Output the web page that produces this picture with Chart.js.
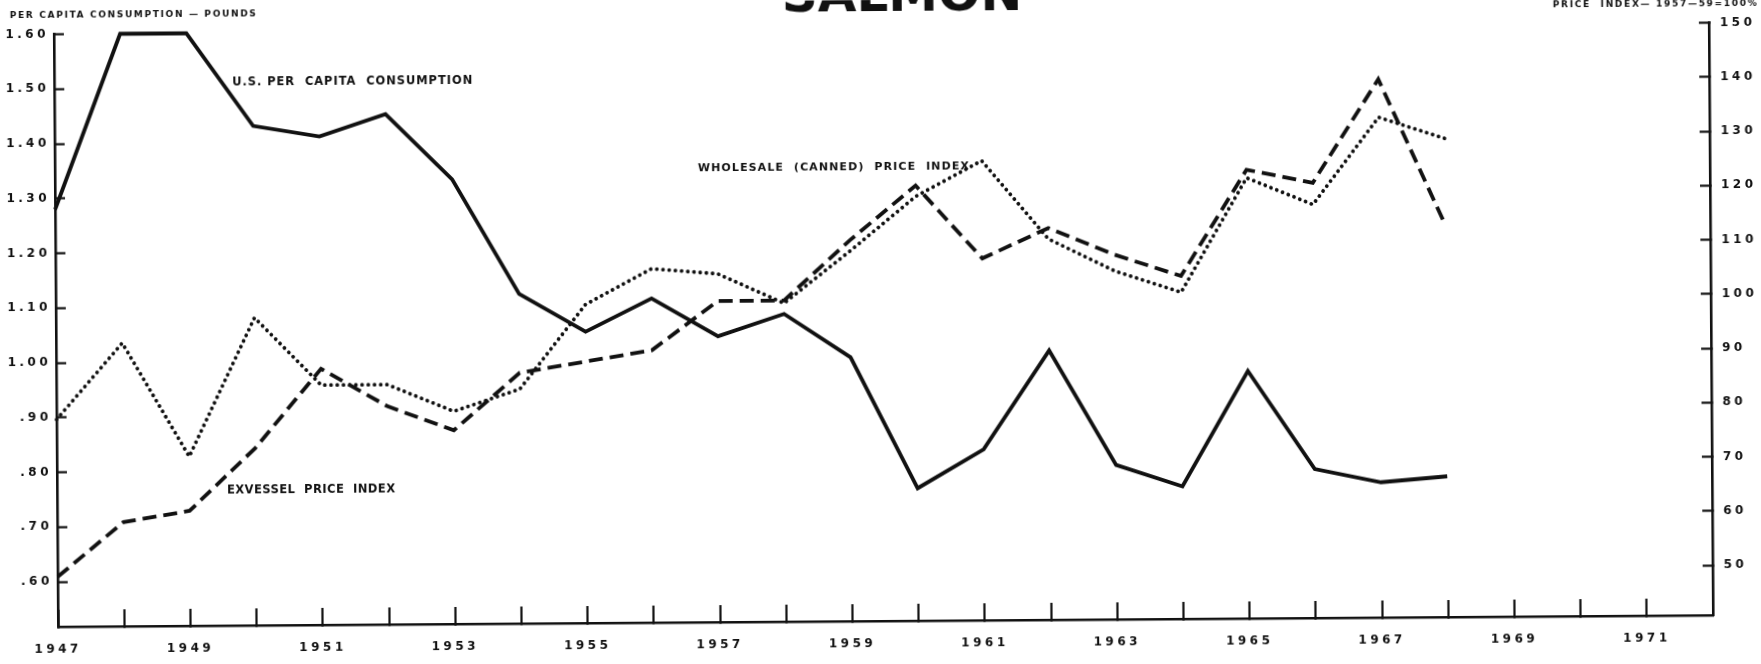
<!DOCTYPE html>
<html>
<head>
<meta charset="utf-8">
<title>Salmon</title>
<script src="https://cdn.jsdelivr.net/npm/chart.js@4/dist/chart.umd.min.js"></script>
<style>
  html, body { margin: 0; padding: 0; background: #fff; overflow: hidden; }
  /* the printed sheet sits slightly askew */
  #chart { display: block; transform: rotate(-0.4deg); transform-origin: 50% 50%; }
</style>
</head>
<body>
<canvas id="chart" width="1761" height="664"></canvas>
<script>
// Salmon: U.S. per capita consumption and price indexes, 1947-1968

const years = [1947, 1948, 1949, 1950, 1951, 1952, 1953, 1954, 1955, 1956, 1957,
               1958, 1959, 1960, 1961, 1962, 1963, 1964, 1965, 1966, 1967, 1968];

// pounds per person
const consumption = [1.28, 1.60, 1.60, 1.43, 1.41, 1.45, 1.33, 1.12, 1.05, 1.11, 1.04,
                     1.08, 1.00, 0.76, 0.83, 1.01, 0.80, 0.76, 0.97, 0.79, 0.765, 0.775];

// price indexes, 1957-59 = 100
const wholesalePrice = [79, 93, 72, 97.5, 85, 85, 80, 84, 99.5, 106, 105,
                        99.5, 109, 119, 125.5, 111, 105, 101, 122, 117, 133, 129];
const exvesselPrice = [50, 60, 62, 73.5, 88, 81, 76.5, 87, 89, 91, 100,
                       100, 111, 121, 107.5, 113, 108, 104, 123.5, 121, 140, 113];

// axis ticks
const yearTicks = [1947, 1948, 1949, 1950, 1951, 1952, 1953, 1954, 1955, 1956, 1957, 1958, 1959,
                   1960, 1961, 1962, 1963, 1964, 1965, 1966, 1967, 1968, 1969, 1970, 1971];
const yearLabels = ['1947', '', '1949', '', '1951', '', '1953', '', '1955', '', '1957', '', '1959',
                    '', '1961', '', '1963', '', '1965', '', '1967', '', '1969', '', '1971'];
const poundTicks = [0.6, 0.7, 0.8, 0.9, 1.0, 1.1, 1.2, 1.3, 1.4, 1.5, 1.6];
const poundLabels = ['.60', '.70', '.80', '.90', '1.00', '1.10', '1.20', '1.30', '1.40', '1.50', '1.60'];
const indexTicks = [50, 60, 70, 80, 90, 100, 110, 120, 130, 140, 150];
const indexLabels = ['50', '60', '70', '80', '90', '100', '110', '120', '130', '140', '150'];

const FONT = '"DejaVu Sans", "Liberation Sans", sans-serif';
const INK = '#111';

function points(values) {
    return years.map((yr, i) => ({ x: yr, y: values[i] }));
}

// spread a string out so that it fills the given width
function spacedText(ctx, text, x, y, width, font, align) {
    ctx.font = font;
    ctx.letterSpacing = '0px';
    const natural = ctx.measureText(text).width;
    const gap = Math.max(0, (width - natural) / (text.length - 1));
    ctx.letterSpacing = gap + 'px';
    ctx.textAlign = 'left';
    const left = align === 'right' ? x - width : align === 'center' ? x - width / 2 : x;
    ctx.fillText(text, left, y);
}

const labelsPlugin = {
    id: 'salmonLabels',
    beforeDraw(chart) {
        // wide tracking for the tick numbers
        chart.ctx.letterSpacing = '3.5px';
    },
    afterDraw(chart) {
        const ctx = chart.ctx;
        ctx.save();
        ctx.fillStyle = INK;
        ctx.textBaseline = 'middle';
        spacedText(ctx, 'PER CAPITA CONSUMPTION \u2014 POUNDS', 12, 10, 246, 'bold 9px ' + FONT, 'left');
        spacedText(ctx, 'PRICE  INDEX\u2014 1957\u201459=100%', 1759, 10, 204, 'bold 9px ' + FONT, 'right');
        spacedText(ctx, 'U.S. PER  CAPITA  CONSUMPTION', 234, 78, 240, 'bold 11.5px ' + FONT, 'left');
        spacedText(ctx, 'WHOLESALE  (CANNED)  PRICE  INDEX', 699, 167, 271, '600 11px ' + FONT, 'left');
        spacedText(ctx, 'EXVESSEL  PRICE  INDEX', 226, 486, 168, 'bold 11.5px ' + FONT, 'left');

        // big heading, running off the top of the sheet
        ctx.textBaseline = 'alphabetic';
        spacedText(ctx, 'SALMON', 898, 11, 228, 'bold 50px ' + FONT, 'center');
        ctx.restore();
    }
};

function fixedTicks(values) {
    return scale => { scale.ticks = values.map(v => ({ value: v })); };
}

const tickFont = { family: FONT, size: 12, weight: 'bold' };

new Chart(document.getElementById('chart'), {
    type: 'line',
    data: {
        datasets: [
            {
                label: 'U.S. per capita consumption',
                data: points(consumption),
                yAxisID: 'pounds',
                borderColor: INK,
                borderWidth: 3.8,
                borderJoinStyle: 'miter'
            },
            {
                label: 'Exvessel price index',
                data: points(exvesselPrice),
                yAxisID: 'index',
                borderColor: INK,
                borderWidth: 3.8,
                borderDash: [14, 7],
                borderCapStyle: 'butt'
            },
            {
                label: 'Wholesale (canned) price index',
                data: points(wholesalePrice),
                yAxisID: 'index',
                borderColor: INK,
                borderWidth: 3.8,
                borderDash: [0.01, 6.2],
                borderCapStyle: 'round'
            }
        ]
    },
    options: {
        responsive: false,
        animation: false,
        events: [],
        clip: false,
        elements: {
            point: { radius: 0 },
            line: { tension: 0, fill: false }
        },
        layout: { padding: { top: 28.5, left: 0, right: 0, bottom: 0 } },
        plugins: {
            legend: { display: false },
            tooltip: { enabled: false },
            title: { display: false }
        },
        scales: {
            x: {
                type: 'linear',
                min: 1947,
                max: 1972,
                afterBuildTicks: fixedTicks(yearTicks),
                afterFit: scale => { scale.height = 43; },
                border: { display: true, color: INK, width: 2.6 },
                grid: { drawOnChartArea: false, drawTicks: true, tickLength: -17, tickWidth: 2.2, tickColor: INK },
                ticks: {
                    autoSkip: false,
                    maxRotation: 0,
                    padding: 33,
                    color: INK,
                    font: tickFont,
                    callback: (value, i) => yearLabels[i]
                }
            },
            pounds: {
                type: 'linear',
                position: 'left',
                min: 0.518,
                max: 1.6,
                afterBuildTicks: fixedTicks(poundTicks),
                afterFit: scale => { scale.width = 56; },
                border: { display: true, color: INK, width: 2.6 },
                grid: { drawOnChartArea: false, drawTicks: true, tickLength: -10, tickWidth: 2.2, tickColor: INK },
                ticks: {
                    padding: 15,
                    color: INK,
                    font: tickFont,
                    callback: (value, i) => poundLabels[i]
                }
            },
            index: {
                type: 'linear',
                position: 'right',
                min: 40.8,
                max: 150,
                afterBuildTicks: fixedTicks(indexTicks),
                afterFit: scale => { scale.width = 50; },
                border: { display: true, color: INK, width: 2.6 },
                grid: { drawOnChartArea: false, drawTicks: true, tickLength: -10, tickWidth: 2.2, tickColor: INK },
                ticks: {
                    padding: 21,
                    color: INK,
                    font: tickFont,
                    callback: (value, i) => indexLabels[i]
                }
            }
        }
    },
    plugins: [labelsPlugin]
});
</script>
</body>
</html>
